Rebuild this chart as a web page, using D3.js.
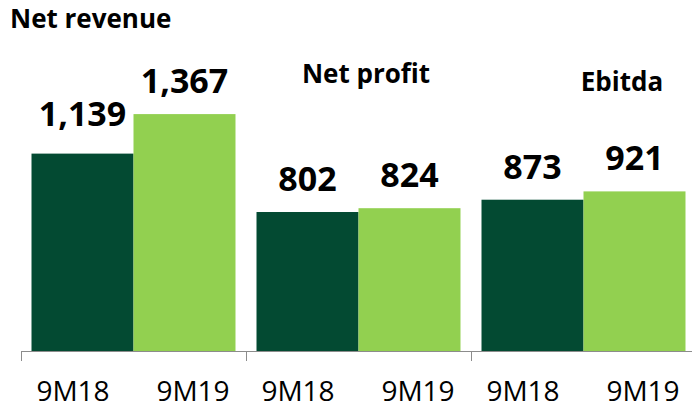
<!DOCTYPE html>
<html>
<head>
<meta charset="utf-8">
<script src="https://cdn.jsdelivr.net/npm/d3@7"></script>
<style>
  html, body { margin: 0; padding: 0; background: #ffffff; }
  svg { display: block; }
</style>
</head>
<body>
<svg id="chart" width="692" height="411"></svg>
<script>
// Nine-month results, 9M18 vs 9M19
const groups = ["Net revenue", "Net profit", "Ebitda"];
const periods = ["9M18", "9M19"];
const values9M18 = [1139, 802, 873];
const values9M19 = [1367, 824, 921];
const valueLabels9M18 = ["1,139", "802", "873"];
const valueLabels9M19 = ["1,367", "824", "921"];

const colors = { "9M18": "#034a32", "9M19": "#92d050" };
const font = "'Open Sans', 'DejaVu Sans', sans-serif";

const svg = d3.select("#chart");
const baseY = 351;

const x0 = d3.scaleBand().domain(groups).range([21, 696]).paddingInner(0).paddingOuter(0);
const x1 = d3.scaleBand().domain(periods).range([0, x0.bandwidth()]).paddingInner(0).paddingOuter(0.103);
const y = d3.scaleLinear().domain([0, 2000]).range([baseY, 4.4]);

const rows = groups.map((g, i) => ({
  group: g,
  items: [
    { period: "9M18", value: values9M18[i], label: valueLabels9M18[i] },
    { period: "9M19", value: values9M19[i], label: valueLabels9M19[i] }
  ]
}));

const g = svg.selectAll("g.grp").data(rows).join("g")
  .attr("class", "grp")
  .attr("transform", d => `translate(${x0(d.group)},0)`);

g.selectAll("rect").data(d => d.items).join("rect")
  .attr("x", d => x1(d.period))
  .attr("y", d => y(d.value))
  .attr("width", x1.bandwidth())
  .attr("height", d => baseY - y(d.value))
  .attr("fill", d => colors[d.period]);

// value labels above bars; the first one sits a little higher
g.selectAll("text.val").data((d, gi) => d.items.map((it, k) => ({ ...it, gi, k }))).join("text")
  .attr("class", "val")
  .attr("x", d => x1(d.period) + x1.bandwidth() / 2)
  .attr("y", d => y(d.value) - 21 - (d.gi === 0 && d.k === 0 ? 7 : 0))
  .attr("text-anchor", "middle")
  .attr("font-family", font)
  .attr("font-weight", 700)
  .attr("font-size", 34)
  .attr("fill", "#000")
  .text(d => d.label);

// category axis
const axis = svg.append("g");
axis.append("line")
  .attr("x1", x0.range()[0]).attr("x2", x0.range()[1])
  .attr("y1", baseY + 0.5).attr("y2", baseY + 0.5)
  .attr("stroke", "#8c8c8c").attr("stroke-width", 1);
const tickXs = groups.map(d => x0(d)).concat([x0.range()[1]]);
axis.selectAll("line.tick").data(tickXs).join("line")
  .attr("class", "tick")
  .attr("x1", d => Math.round(d) + 0.5).attr("x2", d => Math.round(d) + 0.5)
  .attr("y1", baseY).attr("y2", baseY + 10)
  .attr("stroke", "#8c8c8c").attr("stroke-width", 1);

g.selectAll("text.per").data(d => d.items).join("text")
  .attr("class", "per")
  .attr("x", (d, k) => x1(d.period) + x1.bandwidth() / 2 + (k === 0 ? -9.5 : 8.5))
  .attr("y", 401)
  .attr("text-anchor", "middle")
  .attr("font-family", font)
  .attr("font-size", 28)
  .attr("fill", "#000")
  .text(d => d.period);

// group titles
const titles = [
  { text: groups[0], x: 10, y: 28, anchor: "start" },
  { text: groups[1], x: 366, y: 83, anchor: "middle" },
  { text: groups[2], x: 622, y: 91, anchor: "middle" }
];
svg.selectAll("text.title").data(titles).join("text")
  .attr("class", "title")
  .attr("x", d => d.x)
  .attr("y", d => d.y)
  .attr("text-anchor", d => d.anchor)
  .attr("font-family", font)
  .attr("font-weight", 700)
  .attr("font-size", 26)
  .attr("fill", "#000")
  .text(d => d.text);
</script>
</body>
</html>
